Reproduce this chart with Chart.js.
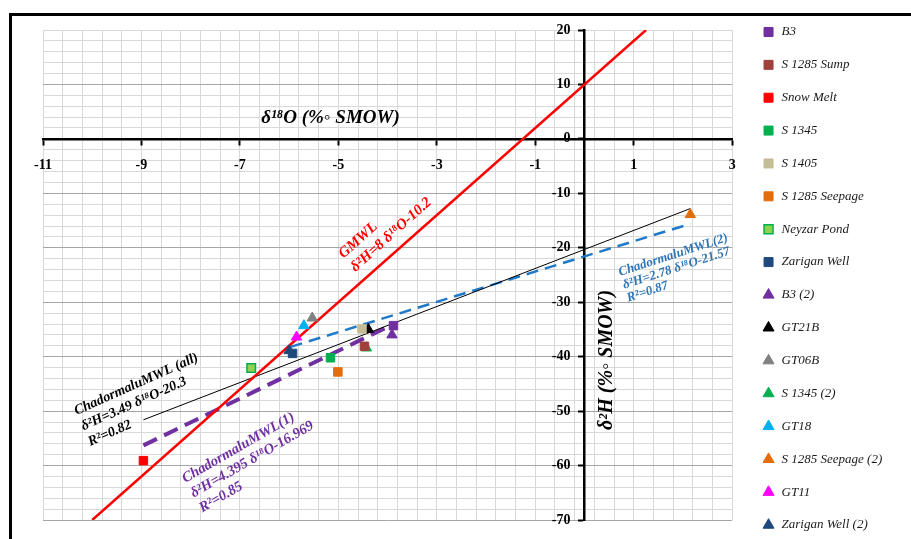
<!DOCTYPE html>
<html>
<head>
<meta charset="utf-8">
<script src="https://cdn.jsdelivr.net/npm/chart.js@4.4.0/dist/chart.umd.min.js"></script>
<style>
  html, body { margin: 0; padding: 0; background: #fff; overflow: hidden; }
  #frame { position: absolute; left: 9px; top: 13px; width: 1000px; height: 700px;
           border-top: 3.5px solid #000; border-left: 3px solid #000; }
  #wrap { position: absolute; left: 0; top: 0; width: 911px; height: 557px; }
</style>
</head>
<body>
<div id="frame"></div>
<div id="wrap"><canvas id="isoChart"></canvas></div>
<script>
// samples, in legend order
const pointNames = ['B3', 'S 1285 Sump', 'Snow Melt', 'S 1345', 'S 1405', 'S 1285 Seepage', 'Neyzar Pond', 'Zarigan Well',
    'B3 (2)', 'GT21B', 'GT06B', 'S 1345 (2)', 'GT18', 'S 1285 Seepage (2)', 'GT11', 'Zarigan Well (2)'];
// d18O (x) and d2H (y)
const pointO18 = [-3.88, -4.47, -8.96, -5.16, -4.52, -5.01, -6.77, -5.93,
    -3.91, -4.39, -5.53, -4.43, -5.70, 2.15, -5.85, -6.00];
const pointH2 = [-34.3, -38.1, -59.1, -40.2, -34.9, -42.8, -42.1, -39.4,
    -36.0, -35.0, -32.9, -38.4, -34.3, -13.9, -36.4, -38.9];

// water lines, start and end points
const lineNames = ['GMWL', 'ChadormaluMWL (all)', 'ChadormaluMWL(1)', 'ChadormaluMWL(2)'];
const lineO18 = [[-10, 1.25], [-8.96, 2.15], [-8.96, -3.88], [-5.97, 2.15]];
const lineH2 = [[-70, 20], [-51.6, -12.8], [-56.3, -34.0], [-38.2, -15.6]];

const xTickLabels = [-11, -9, -7, -5, -3, -1, 1, 3];
const yTickLabels = [20, 10, 0, -10, -20, -30, -40, -50, -60, -70];

const noteTexts = [
    ['GMWL', 'δ²H=8 δ¹⁸O-10.2'],
    ['ChadormaluMWL (all)', 'δ²H=3.49 δ¹⁸O-20.3', 'R²=0.82'],
    ['ChadormaluMWL(1)', 'δ²H=4.395 δ¹⁸O-16.969', 'R²=0.85'],
    ['ChadormaluMWL(2)', 'δ²H=2.78 δ¹⁸O-21.57', 'R²=0.87']
];
const xTitle = 'δ¹⁸O (%◦ SMOW)';
const yTitle = 'δ²H (%◦ SMOW)';

// styles
const pointColors = ['#7030a0', '#a0403c', '#ff0000', '#00b050', '#c4bd97', '#e46c0a', '#92d050', '#1f497d',
    '#7030a0', '#000000', '#808080', '#00b050', '#00b0f0', '#e46c0a', '#ff00ff', '#1f497d'];
const lineStyles = [
    { color: '#ff0000', width: 2.5, dash: [] },
    { color: '#000000', width: 1, dash: [] },
    { color: '#7030a0', width: 4, dash: [15, 8] },
    { color: '#1f7ac9', width: 2.5, dash: [12, 7] }
];
const noteStyles = [
    { x: -4.95, y: -21.5, angle: -42, size: 15, lh: 18, color: '#ff0000' },
    { x: -10.35, y: -50.1, angle: -24, size: 14, lh: 17, color: '#000000' },
    { x: -8.15, y: -62.6, angle: -30, size: 14.5, lh: 17, color: '#7030a0' },
    { x: 0.70, y: -24.6, angle: -18, size: 13, lh: 13.5, color: '#2e75b6' }
];
const serif = '"Liberation Serif", "Times New Roman", serif';

function stepTicks(min, max, step) {
    const out = [];
    const n = Math.round((max - min) / step);
    for (let k = 0; k <= n; k++) out.push({ value: Math.round((min + k * step) * 10) / 10 });
    return out;
}
const isLabel = (v, list) => list.some(t => Math.abs(t - v) < 1e-6);

const datasets = pointNames.map((name, i) => ({
    label: name,
    data: [{ x: pointO18[i], y: pointH2[i] }],
    pointStyle: i < 8 ? 'rect' : 'triangle',
    pointRadius: 6,
    backgroundColor: pointColors[i],
    borderColor: name === 'Neyzar Pond' ? '#00b050' : pointColors[i],
    borderWidth: name === 'Neyzar Pond' ? 1.5 : 1
}));
lineNames.forEach((name, i) => {
    datasets.push({
        label: name,
        data: lineO18[i].map((v, k) => ({ x: v, y: lineH2[i][k] })),
        showLine: true,
        pointRadius: 0,
        borderColor: lineStyles[i].color,
        borderWidth: lineStyles[i].width,
        borderDash: lineStyles[i].dash
    });
});

// rotated equation labels and the two axis titles
const notesPlugin = {
    id: 'notes',
    afterDatasetsDraw(chart) {
        const { ctx } = chart;
        const sx = chart.scales.x, sy = chart.scales.y;
        const draw = (lines, st, align) => {
            ctx.save();
            ctx.translate(sx.getPixelForValue(st.x), sy.getPixelForValue(st.y));
            ctx.rotate(st.angle * Math.PI / 180);
            ctx.fillStyle = st.color;
            ctx.font = 'italic bold ' + st.size + 'px ' + serif;
            ctx.textAlign = align;
            ctx.textBaseline = 'middle';
            lines.forEach((t, k) => ctx.fillText(t, 0, k * (st.lh || 0)));
            ctx.restore();
        };
        noteTexts.forEach((lines, i) => draw(lines, noteStyles[i], 'left'));
        draw([xTitle], { x: -5.16, y: 3.8, angle: 0, size: 19, color: '#000' }, 'center');
        draw([yTitle], { x: 0.46, y: -40.6, angle: -90, size: 20, color: '#000' }, 'center');
    }
};

const tickFont = { family: serif, size: 14, weight: 'bold' };

new Chart(document.getElementById('isoChart'), {
    type: 'scatter',
    data: { datasets: datasets },
    options: {
        responsive: true,
        maintainAspectRatio: false,
        animation: false,
        layout: { padding: { left: 43, right: 29, top: 0, bottom: 0 } },
        scales: {
            x: {
                type: 'linear', axis: 'x', min: -11, max: 3,
                position: { y: 0 },
                afterBuildTicks: s => { s.ticks = stepTicks(-11, 3, 0.4); },
                ticks: {
                    autoSkip: false, maxRotation: 0, padding: 13, color: '#000', font: tickFont,
                    callback: v => isLabel(v, xTickLabels) ? String(v) : ''
                },
                grid: {
                    color: '#d9d9d9', lineWidth: 1, tickLength: 5, tickWidth: 2,
                    tickColor: c => isLabel(c.tick.value, xTickLabels) ? '#000' : 'rgba(0,0,0,0)'
                },
                border: { display: true, color: '#000', width: 2.5 }
            },
            y: {
                type: 'linear', axis: 'y', min: -70, max: 20,
                position: { x: 0 },
                afterBuildTicks: s => { s.ticks = stepTicks(-70, 20, 2); },
                ticks: {
                    autoSkip: false, color: '#000', font: tickFont,
                    callback: v => isLabel(v, yTickLabels) ? v + '    ' : ''
                },
                grid: {
                    lineWidth: 1, tickLength: 5, tickWidth: 2,
                    color: c => c.tick.value === 0 ? 'rgba(0,0,0,0)'
                        : (c.tick.value % 10 === 0 && c.tick.value < 20 ? '#a6a6a6' : '#d9d9d9'),
                    tickColor: c => isLabel(c.tick.value, yTickLabels) ? '#000' : 'rgba(0,0,0,0)'
                },
                border: { display: true, color: '#000', width: 2.5 }
            },
            // spacers that set the plot box inside the canvas
            xTop: {
                type: 'linear', axis: 'x', position: 'top',
                ticks: { display: false }, grid: { display: false }, border: { display: false },
                afterFit: s => { s.height = 30; }
            },
            xBottom: {
                type: 'linear', axis: 'x', position: 'bottom',
                ticks: { display: false }, grid: { display: false }, border: { display: false },
                afterFit: s => { s.height = 37; }
            },
            yRight: {
                type: 'linear', axis: 'y', position: 'right',
                ticks: { display: false }, grid: { display: false }, border: { display: false },
                afterFit: s => { s.width = 10; }
            }
        },
        plugins: {
            legend: {
                position: 'right',
                labels: {
                    usePointStyle: true, boxWidth: 13, boxHeight: 9, padding: 19.87,
                    color: '#1a1a1a',
                    font: { family: serif, size: 13, style: 'italic' },
                    filter: item => item.datasetIndex < pointNames.length
                }
            },
            tooltip: { enabled: false }
        }
    },
    plugins: [notesPlugin]
});
</script>
</body>
</html>
